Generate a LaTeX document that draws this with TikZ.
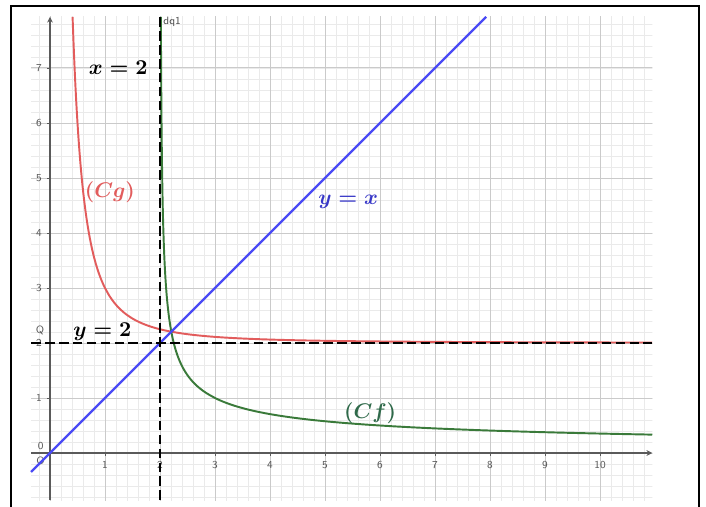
\documentclass[tikz,border=0pt]{standalone}
\usepackage{amsmath}
\usetikzlibrary{arrows.meta}
\definecolor{gminor}{HTML}{EAEAEA}
\definecolor{gmajor}{HTML}{CACACA}
\definecolor{axisgray}{HTML}{5A5A5A}
\definecolor{cgred}{HTML}{E25C5C}
\definecolor{cfgreen}{HTML}{3A7A3A}
\definecolor{cflabel}{HTML}{2F6A4A}
\definecolor{lineblue}{HTML}{4A4AF5}
\definecolor{labelblue}{HTML}{3838C8}
\tikzset{
  ticklab/.style={font=\sffamily\fontsize{5.5}{6}\selectfont, text=axisgray, inner sep=0pt},
  asym/.style={black, line width=1.2pt, dash pattern=on 5pt off 2.2pt},
  curvelab/.style={font=\fontsize{11}{12}\selectfont\boldmath, inner sep=0pt},
  boldlab/.style={font=\fontsize{11}{12}\selectfont\boldmath, inner sep=0pt},
}
\begin{document}
\begin{tikzpicture}[x=1cm,y=1cm]
\useasboundingbox (-0.909,-0.964) rectangle (11.927,8.236);
\fill[white] (-0.909,-0.964) rectangle (11.927,8.236);
% grid
\begin{scope}
\clip (-0.345,-0.855) rectangle (10.95,7.93);
\draw[gminor, line width=0.3pt, step=0.2] (-0.4,-1) grid (11,8);
\draw[gmajor, line width=0.5pt, step=1] (-1,-1) grid (11,8);
\end{scope}
% axes
\coordinate (xl) at (-0.345,0);
\coordinate (xr) at (10.95,0);
\coordinate (yb) at (0,-0.855);
\coordinate (yt) at (0,7.93);
\draw[axisgray, line width=0.8pt, -{Stealth[length=3pt,width=3pt]}] (xl) -- (xr);
\draw[axisgray, line width=0.8pt, -{Stealth[length=3pt,width=3pt]}] (yb) -- (yt);
\foreach \i in {1,...,10} {
  \draw[axisgray, line width=0.4pt] (\i,0) -- (\i,-0.05);
  \node[ticklab] (xt\i) at (\i,-0.22) {\i};
}
\foreach \i in {1,...,7} {
  \draw[axisgray, line width=0.4pt] (0,\i) -- (-0.05,\i);
  \node[ticklab] (yt\i) at (-0.2,\i) {\i};
}
\node[ticklab] (o1) at (-0.17,0.12) {0};
\node[ticklab] (o2) at (-0.17,-0.14) {O};
\node[ticklab] (q) at (-0.18,2.23) {Q};
% curves
\draw[cgred, line width=1pt] plot[domain=7.93:3, samples=80, smooth] ({1/sqrt(\x-2)},\x)
  -- plot[domain=1:10.95, samples=120, smooth] (\x,{2+1/(\x*\x)});
\draw[cfgreen, line width=1pt] plot[domain=7.93:1, samples=80, smooth] ({2+1/(\x*\x)},\x)
  -- plot[domain=3:10.95, samples=120, smooth] (\x,{1/sqrt(\x-2)});
\coordinate (bl) at (-0.345,-0.345);
\coordinate (tr) at (7.93,7.93);
\draw[lineblue, line width=1.2pt] (bl) -- (tr);
% asymptotes
\coordinate (vb) at (2,-0.855);
\coordinate (vt) at (2,7.93);
\coordinate (hl) at (-0.345,2);
\coordinate (hr) at (10.95,2);
\draw[asym] (vb) -- (vt);
\draw[asym] (hl) -- (hr);
% labels
\node[ticklab, text=black!70] (dq) at (2.22,7.84) {dq1};
\node[boldlab] (lx) at (1.24,7.0) {$x=2$};
\node[boldlab] (ly) at (0.95,2.2) {$y=2$};
\node[curvelab, text=cgred] (lcg) at (1.09,4.75) {$(Cg)$};
\node[curvelab, text=labelblue] (lyx) at (5.42,4.56) {$y=x$};
\node[curvelab, text=cflabel] (lcf) at (5.82,0.73) {$(Cf)$};
% frame
\draw[black, line width=1pt] (-0.709,-1.1) -- (-0.709,8.127) -- (11.8,8.127) -- (11.8,-1.1);
\end{tikzpicture}
\end{document}
